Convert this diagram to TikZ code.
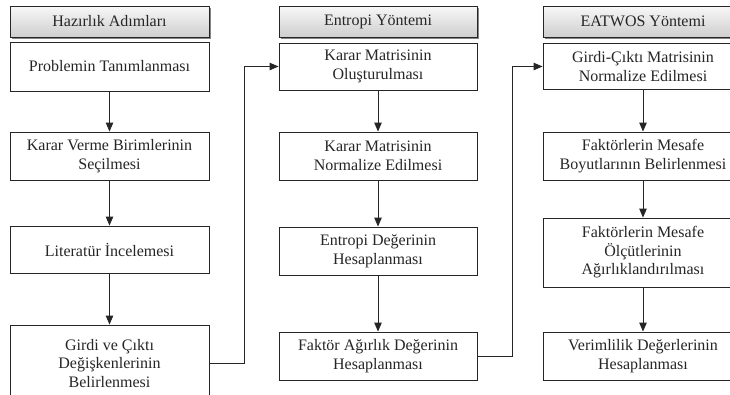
\documentclass[tikz,border=0pt]{standalone}
\usepackage{fontspec}
\setmainfont{Liberation Serif}
\usetikzlibrary{arrows.meta,shadows}
\tikzset{
  stepbox/.style={draw=black!85, line width=0.9pt, fill=white, rectangle, inner sep=0pt,
    align=center, font=\fontsize{16}{18.5}\selectfont, text=black!85},
  headbox/.style={stepbox, top color=gray!6, bottom color=gray!38,
    drop shadow={shadow xshift=1.6pt, shadow yshift=-1.6pt, fill=black!60, opacity=0.8}},
  conn/.style={draw=black!85, line width=0.9pt, -{Triangle[length=9pt,width=7.5pt]}},
}
\begin{document}
\begin{tikzpicture}[x=1pt,y=-1pt]
\useasboundingbox (0,0) rectangle (730,394);
\clip (0,0) rectangle (730,394);
% column 1
\node[headbox, minimum width=199pt, minimum height=31pt] (h1) at (109.5,21.5) {Hazırlık Adımları};
\node[stepbox, minimum width=199pt, minimum height=49pt] (a1) at (109.5,66.5) {Problemin Tanımlanması};
\node[stepbox, minimum width=199pt, minimum height=48pt] (a2) at (109.5,156) {Karar Verme Birimlerinin\\Seçilmesi};
\node[stepbox, minimum width=199pt, minimum height=47pt] (a3) at (109.5,249.5) {Literatür İncelemesi};
\node[stepbox, minimum width=199pt, minimum height=77pt] (a4) at (109.5,363.5) {Girdi ve Çıktı\\Değişkenlerinin\\Belirlenmesi};
% column 2
\node[headbox, minimum width=198pt, minimum height=31pt] (h2) at (378,21.5) {Entropi Yöntemi};
\node[stepbox, minimum width=198pt, minimum height=47pt] (b1) at (378,66.5) {Karar Matrisinin\\Oluşturulması};
\node[stepbox, minimum width=198pt, minimum height=48pt] (b2) at (378,156) {Karar Matrisinin\\Normalize Edilmesi};
\node[stepbox, minimum width=198pt, minimum height=48pt] (b3) at (378,251) {Entropi Değerinin\\Hesaplanması};
\node[stepbox, minimum width=198pt, minimum height=48pt] (b4) at (378,356) {Faktör Ağırlık Değerinin\\Hesaplanması};
% column 3
\node[headbox, minimum width=200pt, minimum height=31pt] (h3) at (643,21.5) {EATWOS Yöntemi};
\node[stepbox, minimum width=200pt, minimum height=46pt] (c1) at (643,66.5) {Girdi-Çıktı Matrisinin\\Normalize Edilmesi};
\node[stepbox, minimum width=200pt, minimum height=48pt] (c2) at (643,156) {Faktörlerin Mesafe\\Boyutlarının Belirlenmesi};
\node[stepbox, minimum width=200pt, minimum height=69pt] (c3) at (643,252.5) {Faktörlerin Mesafe\\Ölçütlerinin\\Ağırlıklandırılması};
\node[stepbox, minimum width=200pt, minimum height=48pt] (c4) at (643,356) {Verimlilik Değerlerinin\\Hesaplanması};
% connectors
\draw[conn] (a1) -- (a2);
\draw[conn] (a2) -- (a3);
\draw[conn] (a3) -- (a4);
\draw[conn] (b1) -- (b2);
\draw[conn] (b2) -- (b3);
\draw[conn] (b3) -- (b4);
\draw[conn] (c1) -- (c2);
\draw[conn] (c2) -- (c3);
\draw[conn] (c3) -- (c4);
\coordinate (k1) at (244,0);
\coordinate (k2) at (512,0);
\draw[conn] (a4.east) -| (k1 |- b1.west) -- (b1.west);
\draw[conn] (b4.east) -| (k2 |- c1.west) -- (c1.west);
\end{tikzpicture}
\end{document}
